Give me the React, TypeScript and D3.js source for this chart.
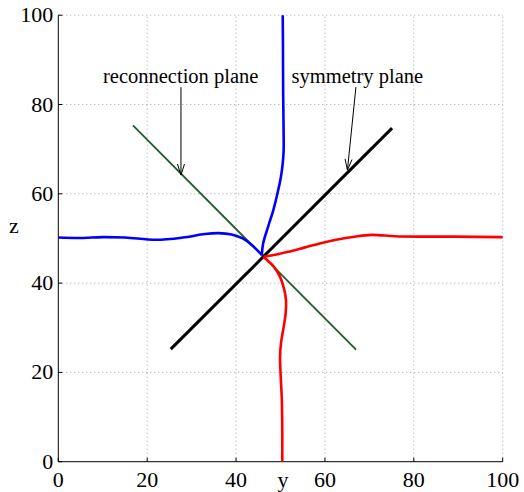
import React from "react";
import * as d3 from "d3";

// Axis ticks
const tickValues = [0, 20, 40, 60, 80, 100];
const gridValues = [20, 40, 60, 80, 100];

// Field lines, [y, z] pairs
const blueIn: [number, number][] = [
  [0, 50.2], [5, 50.1], [10, 50.3], [15, 50.2], [22, 49.7], [28, 50.2],
  [33, 51.0], [36, 51.2], [39, 50.9], [41.5, 50.0], [43.6, 48.5], [45.8, 46.3],
];
const blueOut: [number, number][] = [
  [45.8, 46.3], [46.1, 48.9], [47.2, 52.6], [48.4, 56.4], [49.5, 60.9],
  [50.1, 63.8], [50.5, 66.8], [50.7, 69.5], [50.7, 74], [50.6, 82.5], [50.55, 93.7], [50.5, 100],
];
const redIn: [number, number][] = [
  [100, 50.3], [89.2, 50.4], [81.8, 50.4], [75.7, 50.5], [70.5, 50.8],
  [66.7, 50.4], [62.5, 49.7], [59.3, 49.0], [55.5, 48.0], [51.7, 47.0], [48.5, 46.3], [46.2, 45.9],
];
const redOut: [number, number][] = [
  [46.2, 45.9], [46.6, 45.5], [48.4, 43.8], [49.9, 41.4], [50.85, 38.5], [51.23, 36.2],
  [51.16, 33.2], [50.6, 29.5], [50.1, 26.5], [49.9, 23.5], [50.05, 19.0],
  [50.3, 13.8], [50.4, 6.4], [50.4, 0],
];

// Planes through the X-point
const reconnectionPlane: [number, number][] = [[16.8, 75.3], [67.0, 25.1]];
const symmetryPlane: [number, number][] = [[25.3, 25.2], [75.1, 74.7]];

// Annotations: label anchor, arrow start, arrow tip
const annotations = [
  { text: "reconnection plane", at: [10.06, 84.75], from: [27.6, 83.9], to: [27.6, 64.2] },
  { text: "symmetry plane", at: [52.5, 84.75], from: [66.97, 83.9], to: [65.06, 65.3] },
];

const W = 524;
const H = 492;
const x = d3.scaleLinear().domain([0, 100]).range([58.3, 502.7]);
const z = d3.scaleLinear().domain([0, 100]).range([461.7, 15.2]);

const curve = d3
  .line<[number, number]>()
  .x((d) => x(d[0]))
  .y((d) => z(d[1]))
  .curve(d3.curveCatmullRom.alpha(0.5));
const straight = d3
  .line<[number, number]>()
  .x((d) => x(d[0]))
  .y((d) => z(d[1]));

const FONT = "'Liberation Serif', 'Times New Roman', serif";

function Arrow({ from, to }: { from: number[]; to: number[] }) {
  const x1 = x(from[0]), y1 = z(from[1]);
  const x2 = x(to[0]), y2 = z(to[1]);
  const ang = Math.atan2(y2 - y1, x2 - x1);
  const len = 11, half = 3.5;
  const bx = x2 - len * Math.cos(ang), by = y2 - len * Math.sin(ang);
  const px = -Math.sin(ang) * half, py = Math.cos(ang) * half;
  return (
    <g stroke="#000" strokeWidth={1} fill="none">
      <line x1={x1} y1={y1} x2={x2} y2={y2} />
      <polyline points={`${bx + px},${by + py} ${x2},${y2} ${bx - px},${by - py}`} />
    </g>
  );
}

export default function App() {
  return (
    <svg
      width={W}
      height={H}
      style={{ position: "absolute", left: 0, top: 0, background: "#fff" }}
      fontFamily={FONT}
    >
      <rect width={W} height={H} fill="#fff" />
      {/* dotted grid */}
      <g stroke="#a0a0a0" strokeWidth={1} strokeDasharray="1,3">
        {gridValues.map((v) => (
          <line key={"gx" + v} x1={x(v)} x2={x(v)} y1={z(0)} y2={z(100)} />
        ))}
        {gridValues.map((v) => (
          <line key={"gz" + v} x1={x(0)} x2={x(100)} y1={z(v)} y2={z(v)} />
        ))}
      </g>
      {/* axes */}
      <g stroke="#000" strokeWidth={1}>
        <line x1={x(0)} x2={x(100)} y1={z(0)} y2={z(0)} />
        <line x1={x(0)} x2={x(0)} y1={z(0)} y2={z(100)} />
        {tickValues.map((v) => (
          <line key={"tx" + v} x1={x(v)} x2={x(v)} y1={z(0)} y2={z(0) - 4} />
        ))}
        {tickValues.map((v) => (
          <line key={"tz" + v} x1={x(0)} x2={x(0) + 4} y1={z(v)} y2={z(v)} />
        ))}
      </g>
      <g fontSize={22} fill="#000">
        {tickValues.map((v) => (
          <text key={"lx" + v} x={x(v)} y={z(0) + 25} textAnchor="middle">
            {v}
          </text>
        ))}
        {tickValues.map((v) => (
          <text key={"lz" + v} x={x(0) - 5} y={z(v) + 7} textAnchor="end">
            {v}
          </text>
        ))}
        <text x={283} y={487} textAnchor="middle">y</text>
        <text x={14} y={233} textAnchor="middle">z</text>
      </g>
      {/* planes */}
      <path d={straight(reconnectionPlane) ?? ""} stroke="#1d5e2e" strokeWidth={1.8} fill="none" />
      <path d={straight(symmetryPlane) ?? ""} stroke="#000" strokeWidth={3} fill="none" />
      {/* field lines */}
      <g fill="none" strokeWidth={2.6} strokeLinejoin="round">
        <path d={curve(blueIn) ?? ""} stroke="#0000ff" />
        <path d={curve(blueOut) ?? ""} stroke="#0000ff" />
        <path d={curve(redIn) ?? ""} stroke="#ff0000" />
        <path d={curve(redOut) ?? ""} stroke="#ff0000" />
      </g>
      {/* annotations */}
      {annotations.map((a) => (
        <g key={a.text}>
          <text x={x(a.at[0])} y={z(a.at[1])} fontSize={20.5} fill="#000">
            {a.text}
          </text>
          <Arrow from={a.from} to={a.to} />
        </g>
      ))}
    </svg>
  );
}
